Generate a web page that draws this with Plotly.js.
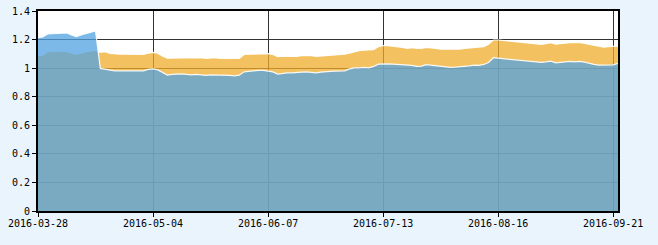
<!DOCTYPE html>
<html>
<head>
<meta charset="utf-8">
<script src="https://cdn.plot.ly/plotly-3.0.1.min.js"></script>
<style>
  html, body { margin: 0; padding: 0; background: #e9f4fc; }
  #chart { width: 658px; height: 245px; }
</style>
</head>
<body>
<div id="chart"></div>
<script>
// Tick labels (trading-day index positions)
const tickIndex = [0, 24, 48, 72, 96, 120];
const tickLabels = ["2016-03-28", "2016-05-04", "2016-06-07", "2016-07-13", "2016-08-16", "2016-09-21"];

// Blue series (net value)
const blueValues = [
  1.213, 1.218, 1.239, 1.241, 1.246, 1.248, 1.246, 1.232, 1.220, 1.232,
  1.243, 1.250, 1.260, 0.998, 0.991, 0.984, 0.981, 0.981, 0.981, 0.981,
  0.981, 0.979, 0.981, 0.991, 0.995, 0.988, 0.970, 0.951, 0.956, 0.958,
  0.960, 0.956, 0.953, 0.956, 0.953, 0.949, 0.953, 0.953, 0.951, 0.951,
  0.949, 0.946, 0.951, 0.974, 0.979, 0.979, 0.984, 0.984, 0.981, 0.974,
  0.958, 0.965, 0.967, 0.967, 0.972, 0.972, 0.974, 0.972, 0.967, 0.972,
  0.977, 0.977, 0.979, 0.981, 0.981, 0.995, 1.002, 1.002, 1.005, 1.002,
  1.012, 1.028, 1.030, 1.030, 1.028, 1.026, 1.023, 1.021, 1.019, 1.012,
  1.014, 1.025, 1.021, 1.016, 1.012, 1.007, 1.005, 1.007, 1.009, 1.014,
  1.016, 1.021, 1.019, 1.026, 1.040, 1.073, 1.070, 1.066, 1.063, 1.061,
  1.058, 1.054, 1.049, 1.044, 1.042, 1.040, 1.044, 1.049, 1.037, 1.042,
  1.044, 1.047, 1.044, 1.047, 1.042, 1.033, 1.026, 1.021, 1.023, 1.026,
  1.023, 1.033
];

// Orange series (accumulated value)
const orangeValues = [
  1.087, 1.091, 1.115, 1.117, 1.119, 1.119, 1.115, 1.105, 1.096, 1.105,
  1.115, 1.119, 1.124, 1.110, 1.115, 1.103, 1.098, 1.098, 1.098, 1.098,
  1.098, 1.098, 1.096, 1.105, 1.110, 1.105, 1.084, 1.070, 1.070, 1.073,
  1.075, 1.070, 1.073, 1.070, 1.073, 1.068, 1.073, 1.073, 1.068, 1.068,
  1.068, 1.068, 1.068, 1.096, 1.098, 1.096, 1.101, 1.103, 1.101, 1.096,
  1.080, 1.084, 1.082, 1.084, 1.082, 1.087, 1.089, 1.087, 1.082, 1.084,
  1.087, 1.090, 1.094, 1.096, 1.098, 1.105, 1.115, 1.122, 1.126, 1.129,
  1.129, 1.150, 1.157, 1.157, 1.154, 1.150, 1.145, 1.138, 1.143, 1.138,
  1.138, 1.145, 1.143, 1.138, 1.133, 1.133, 1.131, 1.133, 1.133, 1.138,
  1.140, 1.145, 1.143, 1.150, 1.168, 1.197, 1.197, 1.192, 1.190, 1.187,
  1.183, 1.180, 1.178, 1.173, 1.168, 1.166, 1.171, 1.178, 1.168, 1.173,
  1.176, 1.178, 1.178, 1.180, 1.173, 1.166, 1.159, 1.152, 1.147, 1.150,
  1.152, 1.154
];

const xIndex = blueValues.map((_, i) => i);

const traces = [
  {
    x: xIndex, y: orangeValues, type: 'scatter', mode: 'lines',
    fill: 'tozeroy', fillcolor: 'rgba(240,172,43,0.75)',
    line: { color: 'rgba(255,255,255,0.9)', width: 1.2 },
    hoverinfo: 'skip', showlegend: false
  },
  {
    x: xIndex, y: blueValues, type: 'scatter', mode: 'lines',
    fill: 'tozeroy', fillcolor: 'rgba(80,162,226,0.75)',
    line: { color: 'rgba(255,255,255,0.9)', width: 1.2 },
    hoverinfo: 'skip', showlegend: false
  }
];

const tickFont = { family: 'DejaVu Sans Mono, monospace', size: 10, color: '#000' };

const layout = {
  width: 658, height: 245,
  margin: { l: 38, r: 40, t: 11, b: 34, pad: 0 },
  paper_bgcolor: '#e9f4fc',
  plot_bgcolor: '#ffffff',
  showlegend: false,
  hovermode: false,
  xaxis: {
    range: [0, 121],
    tickmode: 'array', tickvals: tickIndex, ticktext: tickLabels,
    showgrid: true, gridcolor: '#333333', gridwidth: 1,
    zeroline: false,
    showline: true, linecolor: '#000', linewidth: 2, mirror: true,
    ticks: 'outside', ticklen: 4, tickcolor: '#000', tickwidth: 1,
    ticklabelstandoff: -2,
    tickfont: tickFont
  },
  yaxis: {
    range: [0, 1.4], dtick: 0.2, tick0: 0,
    showgrid: true, gridcolor: '#333333', gridwidth: 1,
    zeroline: false,
    showline: true, linecolor: '#000', linewidth: 2, mirror: true,
    ticks: 'outside', ticklen: 4, tickcolor: '#000', tickwidth: 1,
    tickfont: tickFont
  }
};

Plotly.newPlot('chart', traces, layout, { displayModeBar: false, staticPlot: true });
</script>
</body>
</html>
